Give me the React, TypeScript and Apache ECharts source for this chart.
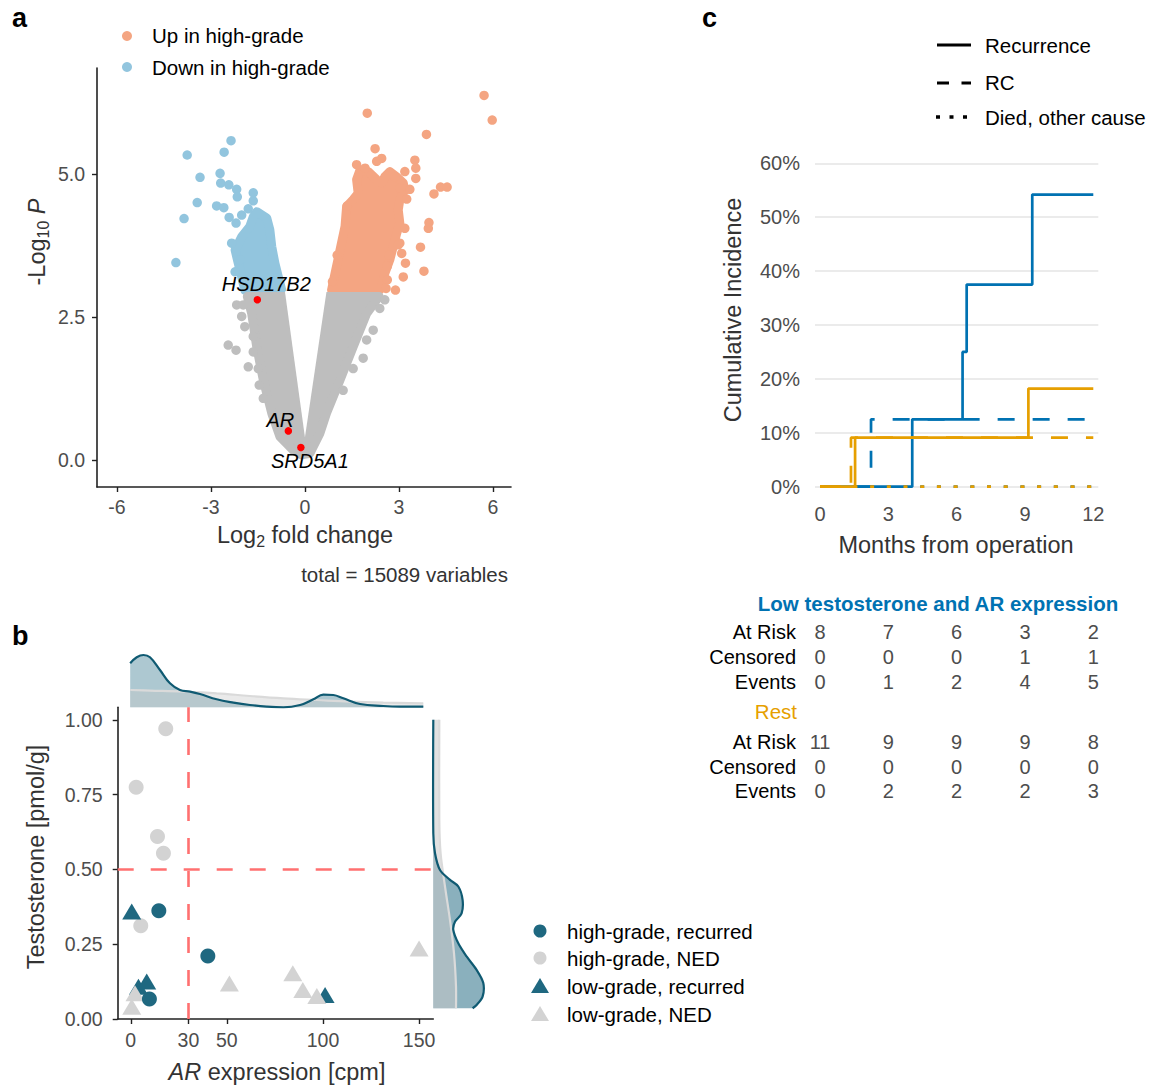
import React, { useEffect, useRef } from 'react';
import * as echarts from 'echarts';

// ---------------- Panel a : volcano ----------------
const volcanoXTicks = [-6, -3, 0, 3, 6];
const volcanoYTicks = [0, 2.5, 5];
const totalVariables = 15089;

// dense clouds (outline of the overplotted point mass)
const upCloud = [
  [0.85, 2.97], [0.96, 3.26], [1.12, 3.67], [1.28, 4.08], [1.33, 4.43], [1.54, 4.55], [1.7, 4.66], [1.65, 4.9],
  [1.76, 5.07], [2.02, 5.04], [2.29, 4.9], [2.45, 4.84], [2.55, 4.95], [2.71, 5.04], [2.93, 4.95], [3.14, 4.84],
  [3.19, 4.72], [3.03, 4.55], [2.98, 4.37], [3.03, 4.14], [2.93, 3.96], [2.82, 3.73], [2.71, 3.5], [2.55, 3.26],
  [2.45, 3.03], [2.39, 2.97],
];
const downCloud = [
  [-1.54, 4.34], [-1.22, 4.23], [-1.12, 4.02], [-1.06, 3.73], [-0.96, 3.44], [-0.85, 3.2], [-0.74, 2.97],
  [-1.92, 2.97], [-2.02, 3.2], [-2.13, 3.44], [-2.23, 3.67], [-2.02, 3.9], [-1.76, 4.08], [-1.65, 4.25],
];
// outer outline of the non-significant mass and the empty wedge inside the "V"
const nsCloud = [
  [-1.84, 2.86], [-1.7, 2.56], [-1.54, 1.98], [-1.33, 1.4], [-1.06, 0.82], [-0.8, 0.41], [-0.37, 0.17], [-0.11, 0.09],
  [0.16, 0.12], [0.48, 0.47], [0.69, 0.82], [1.12, 1.4], [1.54, 1.98], [1.97, 2.56], [2.37, 2.86],
];
const nsGap = [[-0.64, 2.95], [0.69, 2.95], [0.0, 0.4]];
// individually visible points
const upPoints = [
  [1.99, 6.06], [5.72, 6.37], [5.98, 5.94], [3.88, 5.69], [2.24, 5.44], [2.45, 5.27], [2.29, 5.22], [3.51, 5.24],
  [3.54, 5.1], [3.54, 4.92], [1.65, 5.16], [1.92, 5.1], [3.19, 5.04], [3.35, 4.73], [4.33, 4.77], [4.54, 4.77],
  [4.12, 4.65], [3.25, 4.56], [1.35, 4.44], [3.96, 4.15], [3.94, 4.05], [3.19, 4.05], [3.03, 3.79], [3.69, 3.72],
  [3.21, 3.44], [3.8, 3.3], [3.14, 3.2], [2.89, 2.97], [2.63, 3.39], [2.69, 3.58], [1.03, 3.58], [0.88, 3.12],
  [2.87, 4.95], [3.03, 4.75], [2.63, 3.15], [2.59, 3.0], [2.98, 3.76], [3.09, 3.61],
];
const downPoints = [
  [-2.36, 5.58], [-2.58, 5.38], [-3.76, 5.33], [-3.35, 4.94], [-2.71, 5.01], [-2.69, 4.84], [-2.43, 4.81],
  [-2.18, 4.73], [-2.16, 4.6], [-1.65, 4.67], [-1.65, 4.53], [-3.44, 4.5], [-2.82, 4.44], [-2.59, 4.41],
  [-2.42, 4.24], [-2.2, 4.14], [-2.02, 4.28], [-1.81, 4.39], [-3.86, 4.22], [-4.12, 3.45], [-2.34, 3.79],
  [-2.23, 3.29], [-2.07, 3.5],
];
const nsPoints = [
  [-2.18, 2.71], [-1.97, 2.71], [-2.02, 2.51], [-1.92, 2.33], [-1.65, 2.16], [-2.45, 2.01], [-2.2, 1.92],
  [-1.65, 1.89], [-1.81, 1.63], [-1.49, 1.6], [-1.46, 1.31], [-1.33, 1.08], [2.39, 2.65], [2.18, 2.27],
  [1.86, 1.78], [1.54, 1.6], [1.22, 1.22], [2.55, 2.8], [1.97, 2.1],
];
const geneNames = ['HSD17B2', 'AR', 'SRD5A1'];
const geneLogFC = [-1.52, -0.53, -0.13];
const geneLogP = [2.8, 0.51, 0.22];
const geneLabelOffsets = [[9, -16], [-8, -11], [9, 13]];

// ---------------- Panel b : AR vs testosterone ----------------
const arTicks = [0, 30, 50, 100, 150];
const testoTicks = [0, 0.25, 0.5, 0.75, 1];
const arCutoff = 30;
const testoCutoff = 0.5;
const highGradeRecurred = [[14.6, 0.362], [40.1, 0.211], [9.7, 0.067]];
const highGradeNED = [[18.2, 0.97], [2.8, 0.775], [13.9, 0.61], [17.0, 0.554], [5.2, 0.312]];
const lowGradeRecurred = [[0.5, 0.359], [4.0, 0.108], [8.3, 0.125], [101.1, 0.08]];
const lowGradeNED = [[0.5, 0.041], [2.2, 0.086], [51.3, 0.119], [84.3, 0.153], [89.5, 0.097], [96.8, 0.077], [150, 0.236]];

// marginal densities (arbitrary height units)
const topDensRecurredX = [-0.3, 3.1, 6.6, 10.0, 15.2, 20.4, 25.6, 30.8, 36.0, 44.7, 53.4, 62.0, 70.7, 79.4, 88.1, 95.0, 100.2, 105.4, 110.6, 119.3, 131.4, 140.1, 152.2];
const topDensRecurredY = [44, 50, 52.3, 50, 37.3, 24, 17.3, 15.7, 13.3, 8, 4.7, 2.3, 0.7, 0, 2.3, 8, 12.7, 12.3, 9, 3.3, 1.3, 0.7, 0.7];
const topDensNEDX = [-0.3, 10, 27.3, 44.7, 62, 79.4, 96.7, 114, 131.4, 152.2];
const topDensNEDY = [17.3, 16.7, 15.7, 14, 11.3, 9, 7.3, 5.7, 4.7, 4];
const sideDensRecurredT = [1.0, 0.621, 0.554, 0.498, 0.465, 0.443, 0.398, 0.353, 0.325, 0.298, 0.253, 0.209, 0.164, 0.12, 0.075, 0.047, 0.036];
const sideDensRecurredD = [0, 0, 1.7, 6.7, 16.7, 25, 29.3, 28.3, 21.7, 20, 25, 33.3, 43.3, 50, 49.3, 43.3, 39.3];
const sideDensNEDT = [1.0, 0.666, 0.554, 0.443, 0.331, 0.22, 0.109, 0.036];
const sideDensNEDD = [6, 6, 7.3, 11.7, 16.7, 20.7, 22.7, 22.7];

// ---------------- Panel c : cumulative incidence ----------------
const months = [0, 3, 6, 9, 12];
const lowRecurrence = [[0, 0], [4.05, 0.125], [6.26, 0.25], [6.44, 0.375], [9.32, 0.542], [12, 0.542]];
const lowRC = [[0, 0], [2.24, 0.125], [12, 0.125]];
const lowDied = [[0, 0], [12, 0]];
const restRecurrence = [[0, 0], [1.54, 0.091], [9.15, 0.182], [12, 0.182]];
const restRC = [[0, 0], [1.36, 0.091], [12, 0.091]];
const restDied = [[0, 0], [12, 0]];
const lowAtRisk = [8, 7, 6, 3, 2];
const lowCensored = [0, 0, 0, 1, 1];
const lowEvents = [0, 1, 2, 4, 5];
const restAtRisk = [11, 9, 9, 9, 8];
const restCensored = [0, 0, 0, 0, 0];
const restEvents = [0, 2, 2, 2, 3];

// ---------------- styling ----------------
const FONT = '"Liberation Sans", Arial, Helvetica, sans-serif';
const TICK = '#4D4D4D';
const AXIS = '#222222';
const SALMON = '#F4A582';
const SKY = '#92C5DE';
const GREY = '#BEBEBE';
const TEAL = '#1F6880';
const LIGHTGREY = '#D3D3D3';
const BLUE = '#0072B2';
const ORANGE = '#E69F00';

function cloudSeries(cloud: number[][], color: string, strokeWidth = 9) {
  return {
    type: 'custom', xAxisIndex: 0, yAxisIndex: 0, silent: true, data: cloud,
    renderItem: (params: any, api: any) => {
      if (params.dataIndex !== 0) return null;
      return {
        type: 'polygon',
        shape: { points: cloud.map((p) => api.coord(p)) },
        style: strokeWidth > 0
          ? { fill: color, stroke: color, lineWidth: strokeWidth, lineJoin: 'round' }
          : { fill: color },
      };
    },
  };
}

function sideDensity(ts: number[], ds: number[], fill: string | null, stroke: string | null) {
  const data = ts.map((t, i) => [ds[i], t]);
  return {
    type: 'custom', xAxisIndex: 3, yAxisIndex: 3, silent: true, data,
    renderItem: (params: any, api: any) => {
      if (params.dataIndex !== 0) return null;
      const curve = data.map((p) => api.coord(p));
      const children: any[] = [];
      if (fill) {
        const pts = [api.coord([0, ts[0]]), ...curve, api.coord([0, ts[ts.length - 1]])];
        children.push({ type: 'polygon', shape: { points: pts }, style: { fill } });
      }
      if (stroke) {
        children.push({ type: 'polyline', shape: { points: curve, smooth: 0.3 }, style: { stroke, lineWidth: 2.2, fill: null } });
      }
      return { type: 'group', children };
    },
  };
}

const baseLabel = { color: TICK, fontSize: 19.5, fontFamily: FONT };

function valueAxis(extra: any) {
  return {
    type: 'value', splitLine: { show: false },
    axisLine: { show: true, onZero: false, lineStyle: { color: AXIS, width: 1.6 } },
    ...extra,
  };
}

function stepSeries(data: number[][], color: string, dash: any) {
  return {
    type: 'line', xAxisIndex: 4, yAxisIndex: 4, step: 'end', symbol: 'none', clip: false, silent: true,
    data, lineStyle: { color, width: 2.7, type: dash, cap: 'butt' },
  };
}

function ticks(values: number[]) {
  return { show: true, length: 5, customValues: values, lineStyle: { color: AXIS, width: 1.4 } };
}

function buildOption() {
  return {
    animation: false,
    backgroundColor: '#ffffff',
    textStyle: { fontFamily: FONT },
    grid: [
      { left: 97, top: 68, width: 414, height: 419 },
      { left: 117.7, top: 707.3, width: 315.6, height: 311.7 },
      { left: 117.7, top: 652.3, width: 315.6, height: 55 },
      { left: 433.3, top: 707.3, width: 55, height: 311.7 },
      { left: 815, top: 163.3, width: 283.3, height: 323.4 },
    ],
    xAxis: [
      valueAxis({
        gridIndex: 0, min: -6.64, max: 6.58,
        axisTick: ticks(volcanoXTicks),
        axisLabel: { ...baseLabel, margin: 10, customValues: volcanoXTicks },
      }),
      valueAxis({
        gridIndex: 1, min: -6.8, max: 157.4,
        axisTick: ticks(arTicks),
        axisLabel: { ...baseLabel, margin: 11, customValues: arTicks },
      }),
      { type: 'value', gridIndex: 2, min: -6.8, max: 157.4, show: false },
      { type: 'value', gridIndex: 3, min: 0, max: 55, show: false },
      {
        type: 'value', gridIndex: 4, min: -0.22, max: 12.22, splitLine: { show: false },
        axisLine: { show: false }, axisTick: { show: false },
        axisLabel: { ...baseLabel, fontSize: 20, margin: 17, customValues: months },
      },
    ],
    yAxis: [
      valueAxis({
        gridIndex: 0, min: -0.47, max: 6.85,
        axisTick: ticks(volcanoYTicks),
        axisLabel: { ...baseLabel, margin: 12, customValues: volcanoYTicks, formatter: (v: number) => v.toFixed(1) },
      }),
      valueAxis({
        gridIndex: 1, min: 0, max: 1.042,
        axisTick: ticks(testoTicks),
        axisLabel: { ...baseLabel, margin: 15, customValues: testoTicks, formatter: (v: number) => v.toFixed(2) },
      }),
      { type: 'value', gridIndex: 2, min: 0, max: 55, show: false },
      { type: 'value', gridIndex: 3, min: 0, max: 1.042, show: false },
      {
        type: 'value', gridIndex: 4, min: 0, max: 0.6, interval: 0.1,
        axisLine: { show: false }, axisTick: { show: false },
        splitLine: { show: true, lineStyle: { color: '#EBEBEB', width: 2 } },
        axisLabel: { ...baseLabel, fontSize: 20, margin: 15, formatter: (v: number) => Math.round(v * 100) + '%' },
      },
    ],
    series: [
      // ---- panel a
      cloudSeries(upCloud, SALMON),
      cloudSeries(downCloud, SKY),
      { type: 'scatter', xAxisIndex: 0, yAxisIndex: 0, data: upPoints, symbolSize: 9.5, silent: true, itemStyle: { color: SALMON, opacity: 1 } },
      { type: 'scatter', xAxisIndex: 0, yAxisIndex: 0, data: downPoints, symbolSize: 9.5, silent: true, itemStyle: { color: SKY, opacity: 1 } },
      cloudSeries(nsCloud, GREY),
      cloudSeries(nsGap, '#FFFFFF', 0),
      { type: 'scatter', xAxisIndex: 0, yAxisIndex: 0, data: nsPoints, symbolSize: 9.5, silent: true, itemStyle: { color: GREY, opacity: 1 } },
      {
        type: 'scatter', xAxisIndex: 0, yAxisIndex: 0, symbolSize: 7.5, silent: true,
        itemStyle: { color: '#FF0000', opacity: 1 },
        data: geneNames.map((n, i) => ({
          name: n, value: [geneLogFC[i], geneLogP[i]],
          label: {
            show: true, position: 'inside', offset: geneLabelOffsets[i], formatter: n,
            color: '#000', fontSize: 20, fontStyle: 'italic', fontFamily: FONT,
          },
        })),
      },
      // ---- panel b : marginal densities (top)
      {
        type: 'line', xAxisIndex: 2, yAxisIndex: 2, smooth: 0.4, symbol: 'none', silent: true,
        data: topDensRecurredX.map((x, i) => [x, topDensRecurredY[i]]),
        lineStyle: { opacity: 0 }, areaStyle: { color: 'rgba(31,104,128,0.52)' },
      },
      {
        type: 'line', xAxisIndex: 2, yAxisIndex: 2, smooth: 0.4, symbol: 'none', silent: true,
        data: topDensNEDX.map((x, i) => [x, topDensNEDY[i]]),
        lineStyle: { color: '#DADADA', width: 2.2 }, areaStyle: { color: 'rgba(200,200,200,0.55)' },
      },
      {
        type: 'line', xAxisIndex: 2, yAxisIndex: 2, smooth: 0.4, symbol: 'none', silent: true,
        data: topDensRecurredX.map((x, i) => [x, topDensRecurredY[i]]),
        lineStyle: { color: '#0F5A72', width: 2.2 },
      },
      // right densities
      sideDensity(sideDensRecurredT, sideDensRecurredD, 'rgba(31,104,128,0.52)', null),
      sideDensity(sideDensNEDT, sideDensNEDD, 'rgba(200,200,200,0.55)', '#DADADA'),
      sideDensity(sideDensRecurredT, sideDensRecurredD, null, '#0F5A72'),
      // main scatter
      {
        type: 'scatter', xAxisIndex: 1, yAxisIndex: 1, data: highGradeNED, symbol: 'circle', symbolSize: 15, silent: true,
        itemStyle: { color: LIGHTGREY, opacity: 1 },
        markLine: {
          silent: true, symbol: 'none', label: { show: false },
          lineStyle: { color: '#FF7070', width: 2.6, type: [16, 17] },
          data: [{ xAxis: arCutoff }, { yAxis: testoCutoff }],
        },
      },
      { type: 'scatter', xAxisIndex: 1, yAxisIndex: 1, data: lowGradeRecurred, symbol: 'triangle', symbolSize: [19, 16], silent: true, itemStyle: { color: TEAL, opacity: 1 } },
      { type: 'scatter', xAxisIndex: 1, yAxisIndex: 1, data: lowGradeNED, symbol: 'triangle', symbolSize: [19, 16], silent: true, itemStyle: { color: LIGHTGREY, opacity: 1 } },
      { type: 'scatter', xAxisIndex: 1, yAxisIndex: 1, data: highGradeRecurred, symbol: 'circle', symbolSize: 15, silent: true, itemStyle: { color: TEAL, opacity: 1 } },
      // ---- panel c
      stepSeries(lowRecurrence, BLUE, 'solid'),
      stepSeries(lowRC, BLUE, [17, 18]),
      stepSeries(lowDied, BLUE, [4, 12.7]),
      stepSeries(restRecurrence, ORANGE, 'solid'),
      stepSeries(restRC, ORANGE, [17, 18]),
      stepSeries(restDied, ORANGE, [4, 12.7]),
    ],
  };
}

function text(x: number, y: number, str: string, o: any = {}) {
  const align = o.align || 'left';
  const va = o.verticalAlign || 'middle';
  return {
    type: 'text', x, y, silent: true, rotation: o.rotation || 0,
    style: {
      text: str, fontFamily: FONT, fontSize: o.fontSize || 20.5, fontWeight: o.fontWeight || 'normal',
      fontStyle: o.fontStyle || 'normal', fill: o.fill || '#000',
      align, textAlign: align, verticalAlign: va, textVerticalAlign: va,
      rich: o.rich,
    },
  };
}

function richTitle(size: number, color: string) {
  return {
    n: { fontSize: size, fontFamily: FONT, fill: color, color, lineHeight: size + 5 },
    i: { fontSize: size, fontFamily: FONT, fill: color, color, fontStyle: 'italic', lineHeight: size + 5 },
    s: { fontSize: size * 0.68, fontFamily: FONT, fill: color, color, verticalAlign: 'bottom', lineHeight: size * 0.68 },
  };
}

function buildGraphics(chart: any) {
  const g: any[] = [];
  // panel letters
  g.push(text(12, 18, 'a', { fontSize: 27, fontWeight: 'bold' }));
  g.push(text(12, 636, 'b', { fontSize: 27, fontWeight: 'bold' }));
  g.push(text(702, 18, 'c', { fontSize: 27, fontWeight: 'bold' }));

  // panel a legend
  g.push({ type: 'circle', shape: { cx: 127, cy: 36, r: 5 }, style: { fill: SALMON }, silent: true });
  g.push({ type: 'circle', shape: { cx: 127, cy: 67, r: 5 }, style: { fill: SKY }, silent: true });
  g.push(text(152, 35, 'Up in high-grade'));
  g.push(text(152, 67, 'Down in high-grade'));
  // panel a titles
  const TITLE = '#333333';
  g.push(text(37, 242, '{n|-Log}{s|10}{n| }{i|P}', { rotation: Math.PI / 2, align: 'center', rich: richTitle(23.5, TITLE) }));
  g.push(text(305, 535, '{n|Log}{s|2}{n| fold change}', { align: 'center', rich: richTitle(23.5, TITLE) }));
  g.push(text(508, 574, `total = ${totalVariables} variables`, { align: 'right', fill: TITLE }));

  // panel b titles
  g.push(text(36, 857, 'Testosterone [pmol/g]', { rotation: Math.PI / 2, align: 'center', fontSize: 23.5, fill: TITLE }));
  g.push(text(277, 1072, '{i|AR}{n| expression [cpm]}', { align: 'center', rich: richTitle(23.5, TITLE) }));
  // panel b legend
  const legY = [931, 958, 986, 1014];
  const legLabels = ['high-grade, recurred', 'high-grade, NED', 'low-grade, recurred', 'low-grade, NED'];
  const legColors = [TEAL, LIGHTGREY, TEAL, LIGHTGREY];
  legY.forEach((y, i) => {
    if (i < 2) {
      g.push({ type: 'circle', shape: { cx: 540, cy: y, r: 6.5 }, style: { fill: legColors[i] }, silent: true });
    } else {
      g.push({ type: 'polygon', shape: { points: [[540, y - 8], [549, y + 7], [531, y + 7]] }, style: { fill: legColors[i] }, silent: true });
    }
    g.push(text(567, y, legLabels[i]));
  });

  // panel c titles
  g.push(text(733, 310, 'Cumulative Incidence', { rotation: Math.PI / 2, align: 'center', fontSize: 23.5, fill: TITLE }));
  g.push(text(956, 545, 'Months from operation', { align: 'center', fontSize: 23.5, fill: TITLE }));
  // panel c legend
  g.push({ type: 'line', shape: { x1: 937, y1: 45, x2: 971, y2: 45 }, style: { stroke: '#000', lineWidth: 3 }, silent: true });
  g.push({ type: 'line', shape: { x1: 937, y1: 83, x2: 971, y2: 83 }, style: { stroke: '#000', lineWidth: 3, lineDash: [12, 12.5] }, silent: true });
  g.push({ type: 'line', shape: { x1: 936, y1: 117, x2: 971, y2: 117 }, style: { stroke: '#000', lineWidth: 3.5, lineDash: [4, 9.5] }, silent: true });
  g.push(text(985, 45, 'Recurrence'));
  g.push(text(985, 82, 'RC'));
  g.push(text(985, 117, 'Died, other cause'));

  // risk table
  const xs = months.map((m) => chart.convertToPixel({ xAxisIndex: 4 }, m));
  g.push(text(938, 603, 'Low testosterone and AR expression', { align: 'center', fontWeight: 'bold', fill: BLUE, fontSize: 20.5 }));
  g.push(text(797, 711, 'Rest', { align: 'right', fill: ORANGE, fontSize: 20.5 }));
  const rows: [string, number[], number][] = [
    ['At Risk', lowAtRisk, 632], ['Censored', lowCensored, 657], ['Events', lowEvents, 682],
    ['At Risk', restAtRisk, 742], ['Censored', restCensored, 766.5], ['Events', restEvents, 791],
  ];
  rows.forEach(([label, vals, y]) => {
    g.push(text(796, y, label, { align: 'right', fontSize: 20 }));
    vals.forEach((v, i) => g.push(text(xs[i], y, String(v), { align: 'center', fontSize: 20, fill: '#4D4D4D' })));
  });
  return g;
}

export default function App() {
  const ref = useRef<HTMLDivElement>(null);
  useEffect(() => {
    const chart = echarts.init(ref.current as HTMLDivElement, null, { renderer: 'svg' });
    chart.setOption(buildOption() as any);
    chart.setOption({ graphic: buildGraphics(chart) } as any);
    return () => chart.dispose();
  }, []);
  return (
    <div
      ref={ref}
      style={{ position: 'fixed', left: 0, top: 0, width: 1162, height: 1085, background: '#ffffff' }}
    />
  );
}
